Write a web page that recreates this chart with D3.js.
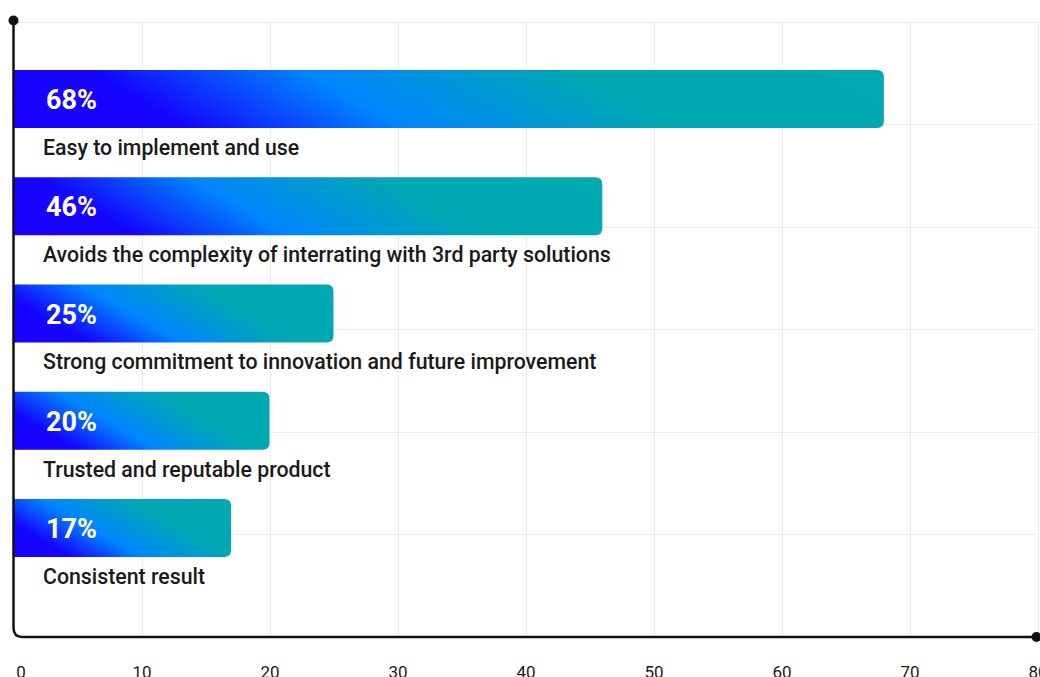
<!DOCTYPE html>
<html>
<head>
<meta charset="utf-8">
<script src="https://cdn.jsdelivr.net/npm/d3@7"></script>
<style>
  html, body { margin: 0; padding: 0; background: #ffffff; }
  svg { display: block; font-family: Roboto, "Noto Sans", sans-serif; }
</style>
</head>
<body>
<svg id="chart" width="1040" height="677"></svg>
<script>
// Survey responses (percent of respondents)
const categories = [
  "Easy to implement and use",
  "Avoids the complexity of interrating with 3rd party solutions",
  "Strong commitment to innovation and future improvement",
  "Trusted and reputable product",
  "Consistent result"
];
const values = [68, 46, 25, 20, 17];
const xTicks = [0, 10, 20, 30, 40, 50, 60, 70, 80];
const gridRows = [0, 1, 2, 3, 4, 5];

const svg = d3.select("#chart");
const plotLeft = 13.5, plotRight = 1037.5, plotTop = 21.5, plotBottom = 637;

const x = d3.scaleLinear().domain([0, 80]).range([plotLeft, plotRight]);
const y = d3.scaleBand().domain(categories)
  .range([70, 557]).paddingInner(0.46).paddingOuter(0);
const gy = d3.scaleLinear().domain([0, 6]).range([plotTop, plotBottom]);

// grid
const grid = svg.append("g").attr("stroke", "#ececec").attr("stroke-width", 1);
grid.selectAll("line.v").data(xTicks.slice(1)).join("line")
  .attr("x1", d => Math.round(x(d)) + 0.5).attr("x2", d => Math.round(x(d)) + 0.5)
  .attr("y1", plotTop).attr("y2", plotBottom);
grid.selectAll("line.h").data(gridRows).join("line")
  .attr("x1", plotLeft).attr("x2", plotRight)
  .attr("y1", d => Math.round(gy(d)) + 0.5).attr("y2", d => Math.round(gy(d)) + 0.5);

// gradient for each bar, angled like a CSS linear-gradient
const defs = svg.append("defs");
const angle = 30 * Math.PI / 180;
const stops = [
  [0, "#1a00ff"], [0.18, "#1405ff"], [0.4, "#0085ff"], [0.68, "#00a8b2"], [1, "#00aab0"]
];
const bh = y.bandwidth();
values.forEach((v, i) => {
  const x0 = x(0), w = x(v) - x(0), y0 = y(categories[i]);
  const cx = x0 + w / 2, cy = y0 + bh / 2;
  const dx = Math.sin(angle), dy = -Math.cos(angle);
  const L = w * Math.sin(angle) + bh * Math.cos(angle);
  const g = defs.append("linearGradient").attr("id", "bar" + i)
    .attr("gradientUnits", "userSpaceOnUse")
    .attr("x1", cx - dx * L / 2).attr("y1", cy - dy * L / 2)
    .attr("x2", cx + dx * L / 2).attr("y2", cy + dy * L / 2);
  stops.forEach(s => g.append("stop").attr("offset", s[0]).attr("stop-color", s[1]));
});

// bars with rounded right corners
function barPath(x0, y0, w, h, r) {
  return `M${x0},${y0}H${x0 + w - r}Q${x0 + w},${y0} ${x0 + w},${y0 + r}` +
    `V${y0 + h - r}Q${x0 + w},${y0 + h} ${x0 + w - r},${y0 + h}H${x0}Z`;
}
svg.append("g").selectAll("path").data(values).join("path")
  .attr("d", (d, i) => barPath(x(0), y(categories[i]), x(d) - x(0), bh, 7))
  .attr("fill", (d, i) => `url(#bar${i})`);

// value labels
svg.append("g").selectAll("text").data(values).join("text")
  .attr("x", 46).attr("y", (d, i) => y(categories[i]) + bh / 2 + 10)
  .attr("fill", "#ffffff").attr("font-size", 27).attr("font-weight", 700)
  .text(d => d + "%");

// category labels under bars
svg.append("g").selectAll("text").data(categories).join("text")
  .attr("x", 43).attr("y", d => y(d) + bh + 27)
  .attr("fill", "#1a1a1a").attr("font-size", 21.3).attr("font-weight", 500)
  .text(d => d);

// axis frame with rounded corner and end dots
const cr = 9;
svg.append("path")
  .attr("d", `M${plotLeft},${plotTop}V${plotBottom - cr}Q${plotLeft},${plotBottom} ${plotLeft + cr},${plotBottom}H${plotRight}`)
  .attr("fill", "none").attr("stroke", "#111").attr("stroke-width", 2.5);
svg.append("circle").attr("cx", plotLeft).attr("cy", plotTop - 1).attr("r", 5).attr("fill", "#111");
svg.append("circle").attr("cx", plotRight - 1).attr("cy", plotBottom).attr("r", 5).attr("fill", "#111");

// x tick labels
const xAxis = d3.axisBottom(x).tickValues(xTicks).tickSize(0).tickPadding(0);
const ax = svg.append("g").attr("transform", `translate(0,${plotBottom + 29})`).call(xAxis);
ax.select(".domain").remove();
ax.selectAll("text")
  .attr("font-family", "Roboto, sans-serif").attr("font-size", 17).attr("font-weight", 400)
  .attr("fill", "#1a1a1a").attr("dy", "0.71em")
  .attr("dx", d => d === 0 ? 7 : 0);
</script>
</body>
</html>
